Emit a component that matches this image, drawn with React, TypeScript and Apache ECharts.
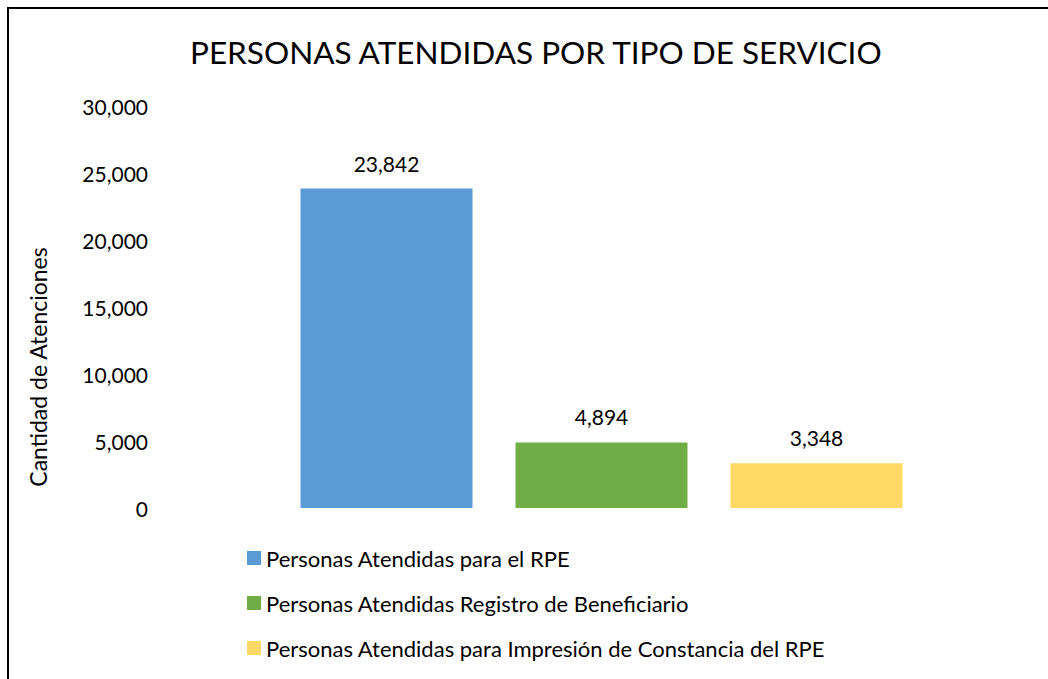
import React, { useEffect, useRef } from "react";
import * as echarts from "echarts";

const title = "PERSONAS ATENDIDAS POR TIPO DE SERVICIO";
const yAxisName = "Cantidad de Atenciones";
const categories = [""];
const seriesNames = [
  "Personas Atendidas para el RPE",
  "Personas Atendidas Registro de Beneficiario",
  "Personas Atendidas para Impresión de Constancia del RPE",
];
const seriesValues = [23842, 4894, 3348];
const seriesColors = ["#5B9BD5", "#70AD47", "#FFD966"];

const FONT = "Lato";

export default function App() {
  const ref = useRef<HTMLDivElement>(null);
  useEffect(() => {
    document.body.style.margin = "0";
    const chart = echarts.init(ref.current!, null, { renderer: "svg" });
    chart.setOption({
      animation: false,
      backgroundColor: "#fff",
      textStyle: { fontFamily: FONT },
      title: {
        text: title,
        left: 185,
        top: 31,
        textStyle: { fontFamily: FONT, fontSize: 31.5, fontWeight: "normal", color: "#000" },
      },
      graphic: [
        {
          type: "rect",
          shape: { x: 8, y: 8, width: 1200, height: 900 },
          style: { fill: "none", stroke: "#000", lineWidth: 2 },
          silent: true,
        },
        {
          type: "text",
          x: 38,
          y: 367,
          rotation: Math.PI / 2,
          style: {
            text: yAxisName,
            fontFamily: FONT,
            fontSize: 23,
            fill: "#000",
            align: "center",
            verticalAlign: "middle",
          },
        },
      ],
      legend: {
        orient: "vertical",
        left: 242,
        top: 542,
        itemWidth: 14,
        itemHeight: 14,
        itemGap: 23,
        icon: "rect",
        textStyle: { fontFamily: FONT, fontSize: 22, color: "#000" },
        data: seriesNames,
      },
      grid: { left: 200, right: 45, top: 106, bottom: 171, containLabel: false },
      xAxis: {
        type: "category",
        data: categories,
        axisLine: { show: false },
        axisTick: { show: false },
        axisLabel: { show: false },
      },
      yAxis: {
        type: "value",
        min: 0,
        max: 30000,
        interval: 5000,
        splitLine: { show: false },
        axisLine: { show: false },
        axisTick: { show: false },
        axisLabel: {
          margin: 52,
          fontFamily: FONT,
          fontSize: 21,
          color: "#000",
          formatter: (v: number) => v.toLocaleString("en-US"),
        },
      },
      series: seriesNames.map((name, i) => ({
        name,
        type: "bar",
        data: [seriesValues[i]],
        barWidth: 172,
        barGap: "25%",
        itemStyle: { color: seriesColors[i] },
        label: {
          show: true,
          position: "top",
          distance: 15,
          fontFamily: FONT,
          fontSize: 21,
          color: "#000",
          formatter: (p: any) => Number(p.value).toLocaleString("en-US"),
        },
      })),
    });
    return () => chart.dispose();
  }, []);
  return <div ref={ref} style={{ width: 1048, height: 679 }} />;
}
